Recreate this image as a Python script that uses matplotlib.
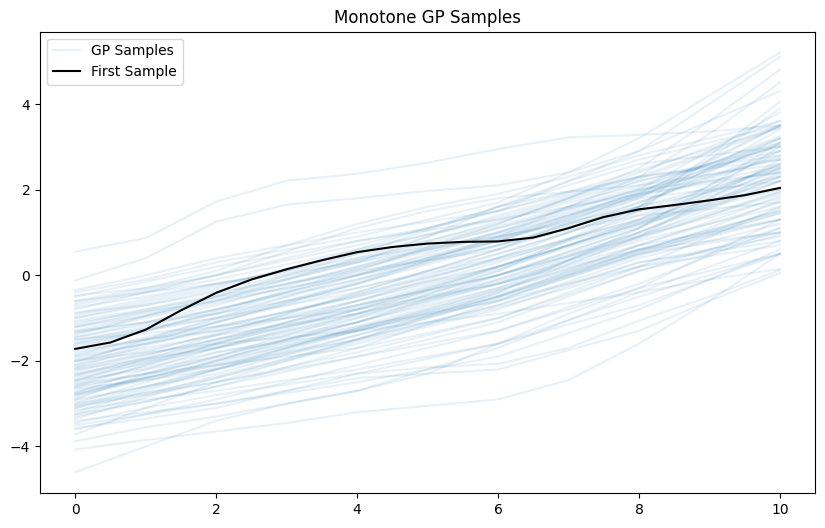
import matplotlib
matplotlib.use("Agg")
import matplotlib.pyplot as plt

title = "Monotone GP Samples"
sample_x = [0, 1, 2, 3, 4, 5, 6, 7, 8, 9, 10]
gp_samples = [
    [0.55, 0.87, 1.72, 2.21, 2.37, 2.63, 2.95, 3.22, 3.28, 3.36, 3.5],
    [-0.12, 0.4, 1.25, 1.65, 1.8, 1.97, 2.1, 2.4, 2.9, 3.6, 4.3],
    [-0.4, -0.1, 0.3, 0.6, 0.9, 1.3, 1.7, 2.4, 3.2, 4.2, 5.2],
    [-0.47, -0.3, 0.0, 0.4, 0.8, 1.1, 1.5, 2.2, 2.9, 4.0, 5.1],
    [-0.6, -0.3, 0.1, 0.7, 1.2, 1.6, 1.9, 2.3, 2.8, 3.2, 3.6],
    [-0.75, -0.5, -0.2, 0.1, 0.5, 0.8, 1.2, 1.8, 2.5, 3.6, 4.8],
    [-0.87, -0.7, -0.4, -0.1, 0.3, 0.9, 1.6, 2.2, 2.7, 3.1, 3.5],
    [-1.06, -0.8, -0.5, -0.2, 0.1, 0.35, 0.6, 1.1, 1.7, 2.3, 2.9],
    [-1.22, -0.95, -0.6, -0.1, 0.4, 0.9, 1.4, 1.85, 2.3, 3.3, 4.5],
    [-1.34, -1.1, -0.8, -0.45, -0.1, 0.4, 0.9, 1.4, 1.9, 2.5, 3.2],
    [-1.45, -1.1, -0.7, -0.25, 0.2, 0.65, 1.1, 1.55, 2.0, 2.35, 2.7],
    [-1.88, -1.5, -1.1, -0.7, -0.3, 0.1, 0.5, 1.0, 1.6, 2.8, 4.05],
    [-2.16, -1.65, -1.2, -0.85, -0.5, -0.05, 0.4, 0.85, 1.3, 1.75, 2.2],
    [-2.31, -2.0, -1.6, -1.2, -0.8, -0.3, 0.2, 0.8, 1.5, 2.7, 3.9],
    [-2.47, -1.95, -1.5, -1.2, -0.9, -0.55, -0.2, 0.3, 0.8, 1.2, 1.6],
    [-2.63, -2.3, -1.9, -1.5, -1.1, -0.55, 0.0, 0.55, 1.1, 2.0, 3.0],
    [-2.78, -2.4, -2.0, -1.65, -1.3, -0.9, -0.5, 0.05, 0.6, 0.95, 1.3],
    [-2.94, -2.6, -2.2, -1.7, -1.2, -0.75, -0.3, 0.35, 1.0, 1.7, 2.4],
    [-3.1, -2.75, -2.4, -2.0, -1.6, -1.2, -0.8, -0.25, 0.3, 0.55, 0.8],
    [-3.25, -2.95, -2.6, -2.25, -1.9, -1.5, -1.1, -0.5, 0.1, 0.6, 1.1],
    [-3.45, -3.1, -2.8, -2.55, -2.3, -1.95, -1.6, -1.05, -0.5, 0.0, 0.5],
    [-3.57, -3.35, -3.1, -2.7, -2.3, -2.15, -2.07, -1.7, -1.06, -0.5, 0.12],
    [-3.72, -3.1, -2.5, -2.0, -1.5, -1.0, -0.5, 0.0, 0.5, 0.75, 1.0],
    [-3.88, -3.55, -3.3, -3.0, -2.7, -2.3, -1.6, -0.9, -0.3, 0.5, 1.3],
    [-4.07, -3.85, -3.65, -3.45, -3.2, -3.05, -2.9, -2.45, -1.6, -0.6, 0.5],
    [-4.6, -4.0, -3.4, -3.0, -2.7, -2.2, -1.7, -1.05, -0.4, 0.2, 0.8],
    [-1.0, -0.65, -0.3, 0.15, 0.6, 0.95, 1.3, 1.75, 2.2, 2.6, 3.0],
    [-1.3, -1.1, -0.9, -0.6, -0.3, 0.05, 0.4, 0.85, 1.3, 1.95, 2.6],
    [-1.5, -1.25, -1.0, -0.7, -0.4, 0.1, 0.6, 1.2, 1.8, 2.65, 3.5],
    [-1.6, -1.3, -1.0, -0.6, -0.2, 0.35, 0.9, 1.6, 2.3, 2.9, 3.5],
    [-1.75, -1.5, -1.3, -1.0, -0.7, -0.35, 0.0, 0.45, 0.9, 1.35, 1.8],
    [-1.9, -1.6, -1.3, -0.95, -0.6, -0.15, 0.3, 0.85, 1.4, 1.95, 2.5],
    [-2.0, -1.7, -1.4, -1.15, -0.9, -0.5, -0.1, 0.45, 1.0, 1.65, 2.3],
    [-2.1, -1.6, -1.1, -0.65, -0.2, 0.25, 0.7, 1.2, 1.7, 2.25, 2.8],
    [-2.2, -1.95, -1.7, -1.4, -1.1, -0.7, -0.3, 0.15, 0.6, 1.05, 1.5],
    [-2.4, -2.05, -1.7, -1.35, -1.0, -0.45, 0.1, 0.7, 1.3, 2.1, 2.9],
    [-2.5, -2.15, -1.8, -1.55, -1.3, -0.95, -0.6, -0.05, 0.5, 0.9, 1.3],
    [-2.6, -2.1, -1.6, -1.1, -0.6, -0.1, 0.4, 1.0, 1.6, 2.4, 3.2],
    [-2.7, -2.4, -2.1, -1.8, -1.5, -1.1, -0.7, -0.2, 0.3, 0.6, 0.9],
    [-2.8, -2.35, -1.9, -1.4, -0.9, -0.35, 0.2, 0.7, 1.2, 1.9, 2.6],
    [-2.9, -2.6, -2.3, -1.85, -1.4, -0.95, -0.5, 0.1, 0.7, 1.2, 1.7],
    [-3.0, -2.5, -2.0, -1.5, -1.0, -0.6, -0.2, 0.35, 0.9, 1.55, 2.2],
    [-3.05, -2.8, -2.5, -2.15, -1.8, -1.4, -1.0, -0.4, 0.2, 0.45, 0.7],
    [-3.2, -2.7, -2.2, -1.75, -1.3, -0.85, -0.4, 0.25, 0.9, 1.8, 2.7],
    [-3.3, -2.95, -2.6, -2.15, -1.7, -1.15, -0.6, 0.0, 0.6, 1.05, 1.5],
    [-3.4, -3.2, -3.0, -2.75, -2.5, -2.2, -1.9, -1.35, -0.8, -0.1, 0.6],
    [-3.6, -3.25, -2.9, -2.5, -2.1, -1.7, -1.3, -0.8, -0.3, 0.1, 0.5],
    [-1.4, -0.95, -0.5, 0.0, 0.5, 1.05, 1.6, 2.1, 2.6, 2.8, 3.0],
    [-1.1, -0.85, -0.6, -0.3, 0.0, 0.5, 1.0, 1.6, 2.2, 2.55, 2.9],
    [-0.9, -0.55, -0.2, 0.1, 0.4, 0.65, 0.9, 1.2, 1.5, 1.75, 2.0],
    [-0.7, -0.4, -0.1, 0.25, 0.6, 1.1, 1.6, 1.95, 2.3, 2.5, 2.7],
    [-0.5, -0.15, 0.2, 0.5, 0.8, 1.05, 1.3, 1.6, 1.9, 2.15, 2.4],
    [-0.8, -0.4, 0.0, 0.55, 1.1, 1.5, 1.8, 1.95, 2.1, 2.35, 2.6],
    [-1.2, -0.85, -0.5, -0.1, 0.3, 0.6, 0.9, 1.25, 1.6, 1.95, 2.3],
    [-1.5, -1.35, -1.2, -1.0, -0.8, -0.5, -0.2, 0.25, 0.7, 1.0, 1.3],
    [-1.65, -1.3, -0.9, -0.4, 0.1, 0.65, 1.2, 1.8, 2.4, 3.0, 3.6],
    [-2.0, -1.8, -1.6, -1.45, -1.3, -1.1, -0.9, -0.65, -0.4, -0.1, 0.15],
    [-2.35, -1.9, -1.4, -0.9, -0.4, 0.1, 0.6, 1.25, 1.9, 2.7, 3.5],
    [-2.55, -2.3, -2.1, -1.9, -1.7, -1.35, -1.0, -0.45, 0.1, 0.5, 0.95],
    [-2.75, -2.2, -1.7, -1.25, -0.8, -0.35, 0.1, 0.85, 1.6, 2.5, 3.4],
    [-2.85, -2.4, -2.0, -1.55, -1.1, -0.6, -0.1, 0.4, 0.9, 1.4, 1.9],
    [-3.15, -2.9, -2.7, -2.45, -2.2, -1.9, -1.6, -1.15, -0.7, -0.1, 0.5],
    [-3.35, -2.85, -2.4, -1.95, -1.5, -1.1, -0.7, -0.15, 0.4, 0.8, 1.2],
    [-1.8, -1.5, -1.2, -0.85, -0.5, -0.15, 0.2, 0.7, 1.2, 1.6, 2.0],
    [-2.25, -1.85, -1.5, -1.1, -0.7, -0.35, 0.0, 0.55, 1.1, 1.8, 2.5],
    [-2.65, -2.45, -2.2, -1.85, -1.5, -0.95, -0.4, 0.35, 1.1, 2.1, 3.1],
    [-3.5, -3.25, -3.0, -2.7, -2.4, -2.3, -2.2, -1.75, -1.3, -0.6, 0.05],
    [-0.35, 0.0, 0.4, 0.7, 1.0, 1.25, 1.5, 1.9, 2.3, 2.55, 2.8],
    [-0.6, -0.4, -0.2, 0.05, 0.3, 0.7, 1.1, 1.55, 2.0, 2.2, 2.4],
    [-1.55, -1.2, -0.8, -0.4, 0.0, 0.35, 0.7, 1.05, 1.4, 1.55, 1.7],
    [-2.05, -1.5, -1.0, -0.5, 0.0, 0.4, 0.8, 1.3, 1.8, 2.0, 2.2],
    [-2.45, -2.2, -1.9, -1.5, -1.1, -0.65, -0.2, 0.2, 0.6, 0.8, 1.0],
    [-3.0, -2.75, -2.5, -2.2, -1.9, -1.6, -1.3, -0.75, -0.2, 0.45, 1.1],
    [-1.3, -0.95, -0.6, -0.2, 0.2, 0.6, 1.0, 1.5, 2.0, 2.9, 3.8],
    [-2.9, -2.3, -1.8, -1.5, -1.2, -0.9, -0.6, -0.2, 0.2, 0.9, 1.6],
    [-1.7, -1.3, -0.85, -0.35, 0.15, 0.6, 1.0, 1.45, 1.9, 2.3, 2.75],
    [-2.2, -1.8, -1.35, -0.9, -0.45, 0.0, 0.5, 1.0, 1.5, 2.0, 2.55],
    [-1.0, -0.7, -0.35, 0.0, 0.35, 0.8, 1.25, 1.7, 2.1, 2.6, 3.1],
    [-2.6, -2.3, -1.95, -1.6, -1.25, -0.85, -0.45, 0.05, 0.55, 1.1, 1.75],
    [-3.1, -2.65, -2.2, -1.8, -1.4, -1.0, -0.55, -0.05, 0.45, 0.95, 1.45],
    [-1.35, -1.0, -0.65, -0.3, 0.05, 0.45, 0.85, 1.35, 1.85, 2.45, 3.1],
    [-2.0, -1.55, -1.1, -0.65, -0.2, 0.3, 0.8, 1.35, 1.95, 2.5, 3.05],
    [-2.45, -2.05, -1.6, -1.2, -0.8, -0.4, 0.0, 0.45, 0.95, 1.45, 1.95],
    [-0.95, -0.6, -0.25, 0.15, 0.55, 0.95, 1.35, 1.8, 2.25, 2.85, 3.45],
    [-1.85, -1.45, -1.05, -0.6, -0.15, 0.35, 0.85, 1.4, 1.95, 2.6, 3.25],
    [-3.25, -2.8, -2.35, -1.95, -1.55, -1.15, -0.75, -0.3, 0.2, 0.6, 1.0],
    [-2.75, -2.4, -2.05, -1.65, -1.25, -0.8, -0.35, 0.15, 0.7, 1.25, 1.85],
    [-1.2, -0.9, -0.55, -0.2, 0.15, 0.55, 0.95, 1.4, 1.85, 2.2, 2.55],
    [-2.3, -1.95, -1.55, -1.15, -0.75, -0.3, 0.15, 0.65, 1.15, 1.7, 2.3],
    [-0.65, -0.35, 0.0, 0.35, 0.7, 1.1, 1.5, 1.95, 2.45, 2.95, 3.45],
    [-1.6, -1.25, -0.9, -0.5, -0.1, 0.3, 0.7, 1.15, 1.6, 2.05, 2.5],
    [-2.1, -1.75, -1.4, -1.0, -0.6, -0.2, 0.2, 0.7, 1.2, 1.75, 2.35],
    [-2.35, -2.0, -1.65, -1.3, -0.95, -0.55, -0.15, 0.35, 0.85, 1.4, 1.95],
    [-1.45, -1.15, -0.8, -0.4, 0.0, 0.4, 0.8, 1.3, 1.85, 2.45, 3.05],
    [-2.55, -2.1, -1.7, -1.3, -0.9, -0.45, 0.0, 0.5, 1.0, 1.6, 2.2],
    [-1.95, -1.6, -1.25, -0.85, -0.45, -0.05, 0.35, 0.8, 1.25, 1.65, 2.05],
    [-2.8, -2.45, -2.1, -1.7, -1.3, -0.9, -0.5, 0.0, 0.5, 1.0, 1.55],
    [-1.15, -0.8, -0.45, -0.05, 0.35, 0.75, 1.15, 1.6, 2.05, 2.6, 3.2],
    [-3.05, -2.6, -2.15, -1.7, -1.25, -0.8, -0.35, 0.1, 0.55, 1.0, 1.45],
    [-2.15, -1.85, -1.5, -1.1, -0.7, -0.25, 0.2, 0.7, 1.25, 1.85, 2.45],
]

first_x = [0, 0.5, 1, 1.5, 2, 2.5, 3, 3.5, 4, 4.5, 5, 5.5, 6, 6.5, 7, 7.5, 8, 8.5, 9, 9.5, 10]
first_y = [-1.72, -1.57, -1.27, -0.82, -0.41, -0.1, 0.14, 0.35, 0.54, 0.66, 0.74,
           0.78, 0.79, 0.88, 1.1, 1.36, 1.54, 1.64, 1.75, 1.87, 2.04]

fig, ax = plt.subplots(figsize=(8.25, 5.28), dpi=100)
for i, ys in enumerate(gp_samples):
    ax.plot(sample_x, ys, color="C0", alpha=0.1, label="GP Samples" if i == 0 else None)
ax.plot(first_x, first_y, color="black", label="First Sample")
ax.set_title(title)
ax.legend(loc="upper left")
fig.subplots_adjust(left=0.0485, right=0.988, top=0.94, bottom=0.066)
fig.savefig("out.png", dpi=100)
